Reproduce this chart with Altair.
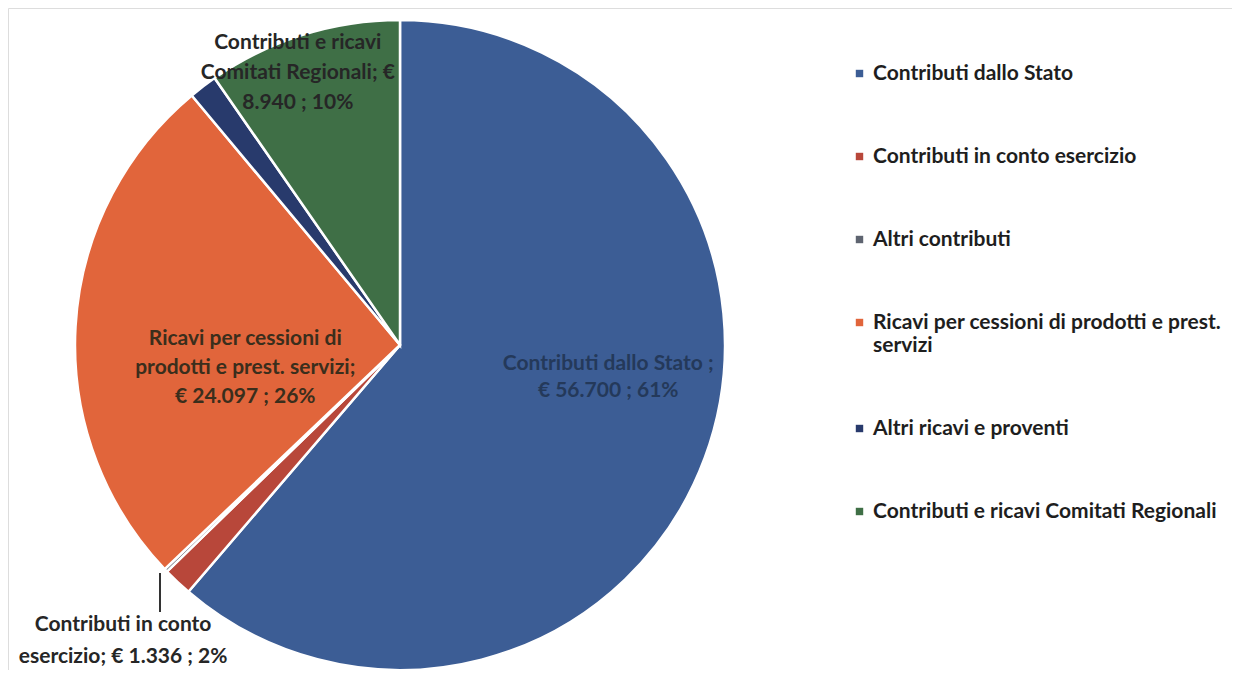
import math
import altair as alt
import pandas as pd

categories = [
    "Contributi dallo Stato",
    "Contributi in conto esercizio",
    "Altri contributi",
    "Ricavi per cessioni di prodotti e prest. servizi",
    "Altri ricavi e proventi",
    "Contributi e ricavi Comitati Regionali",
]
values = [56700, 1336, 150, 24097, 1300, 8940]
colors = ["#3C5D95", "#B8473A", "#5E6470", "#E1653B", "#283A6C", "#3F6F46"]

label_texts = {
    "Contributi dallo Stato": "Contributi dallo Stato ;\n€ 56.700 ; 61%",
    "Ricavi per cessioni di prodotti e prest. servizi": "Ricavi per cessioni di\nprodotti e prest. servizi;\n€ 24.097 ; 26%",
    "Contributi e ricavi Comitati Regionali": "Contributi e ricavi\nComitati Regionali;  €\n8.940 ; 10%",
    "Contributi in conto esercizio": "Contributi in conto\nesercizio;  € 1.336 ; 2%",
}

df = pd.DataFrame({"category": categories, "value": values, "order": list(range(len(categories)))})

CX, CY, R = 392, 337, 325
FONT = "Lato"
FS = 21

arc = alt.Chart(df).mark_arc(outerRadius=R, stroke="white", strokeWidth=2.5).encode(
    theta=alt.Theta("value:Q", stack=True),
    order=alt.Order("order:Q"),
    color=alt.Color(
        "category:N",
        scale=alt.Scale(domain=categories, range=colors),
        sort=categories,
        legend=alt.Legend(
            title=None,
            orient="none",
            legendX=841,
            legendY=55,
            symbolType="square",
            symbolSize=55,
            symbolStrokeWidth=0,
            labelFont=FONT,
            labelFontSize=FS,
            labelFontWeight="bold",
            labelColor="#1e1e1e",
            labelLimit=420,
            labelOffset=3,
            rowPadding=61,
            padding=0,
            labelExpr="datum.label == 'Ricavi per cessioni di prodotti e prest. servizi' ? ['Ricavi per cessioni di prodotti e prest.', 'servizi'] : datum.label",
        ),
    ),
    x=alt.value(CX),
    y=alt.value(CY),
)


def label_layer(cat, radius, dx, dy, color, line_height):
    return (
        alt.Chart(df)
        .transform_window(cum="sum(value)", sort=[alt.SortField("order")])
        .transform_joinaggregate(total="sum(value)")
        .transform_calculate(frac="(datum.cum - datum.value / 2) / datum.total")
        .transform_filter(alt.datum.category == cat)
        .mark_text(
            radius=radius,
            dx=dx,
            dy=dy,
            font=FONT,
            fontSize=FS,
            fontWeight="bold",
            color=color,
            align="center",
            baseline="middle",
            lineBreak="\n",
            lineHeight=line_height,
        )
        .encode(
            theta=alt.Theta("frac:Q", scale=alt.Scale(domain=[0, 1], range=[0, 2 * math.pi]), stack=False),
            text=alt.value(label_texts[cat]),
            x=alt.value(CX),
            y=alt.value(CY),
        )
    )


lbl_stato = label_layer("Contributi dallo Stato", 222, 0, -58, "#24395A", 27)
lbl_ricavi = label_layer("Ricavi per cessioni di prodotti e prest. servizi", 155, 0, 3, "#3A2E1C", 29)
lbl_comit = label_layer("Contributi e ricavi Comitati Regionali", 285, -17, -30, "#262626", 30)
lbl_conto = label_layer("Contributi in conto esercizio", 400, -3, -12, "#262626", 32)

leader = alt.Chart(df).mark_rule(color="#333333", strokeWidth=1.2).encode(
    x=alt.value(152), y=alt.value(565), y2=alt.value(604)
)

chart = (
    alt.layer(arc, leader, lbl_stato, lbl_ricavi, lbl_comit, lbl_conto)
    .resolve_scale(theta="independent")
    .properties(width=1224, height=662, padding=0, autosize="none")
    .configure_view(strokeWidth=0, stroke="transparent")
    .configure(background="white")
)

chart.save("out.html", embed_options={"renderer": "svg", "actions": False})
